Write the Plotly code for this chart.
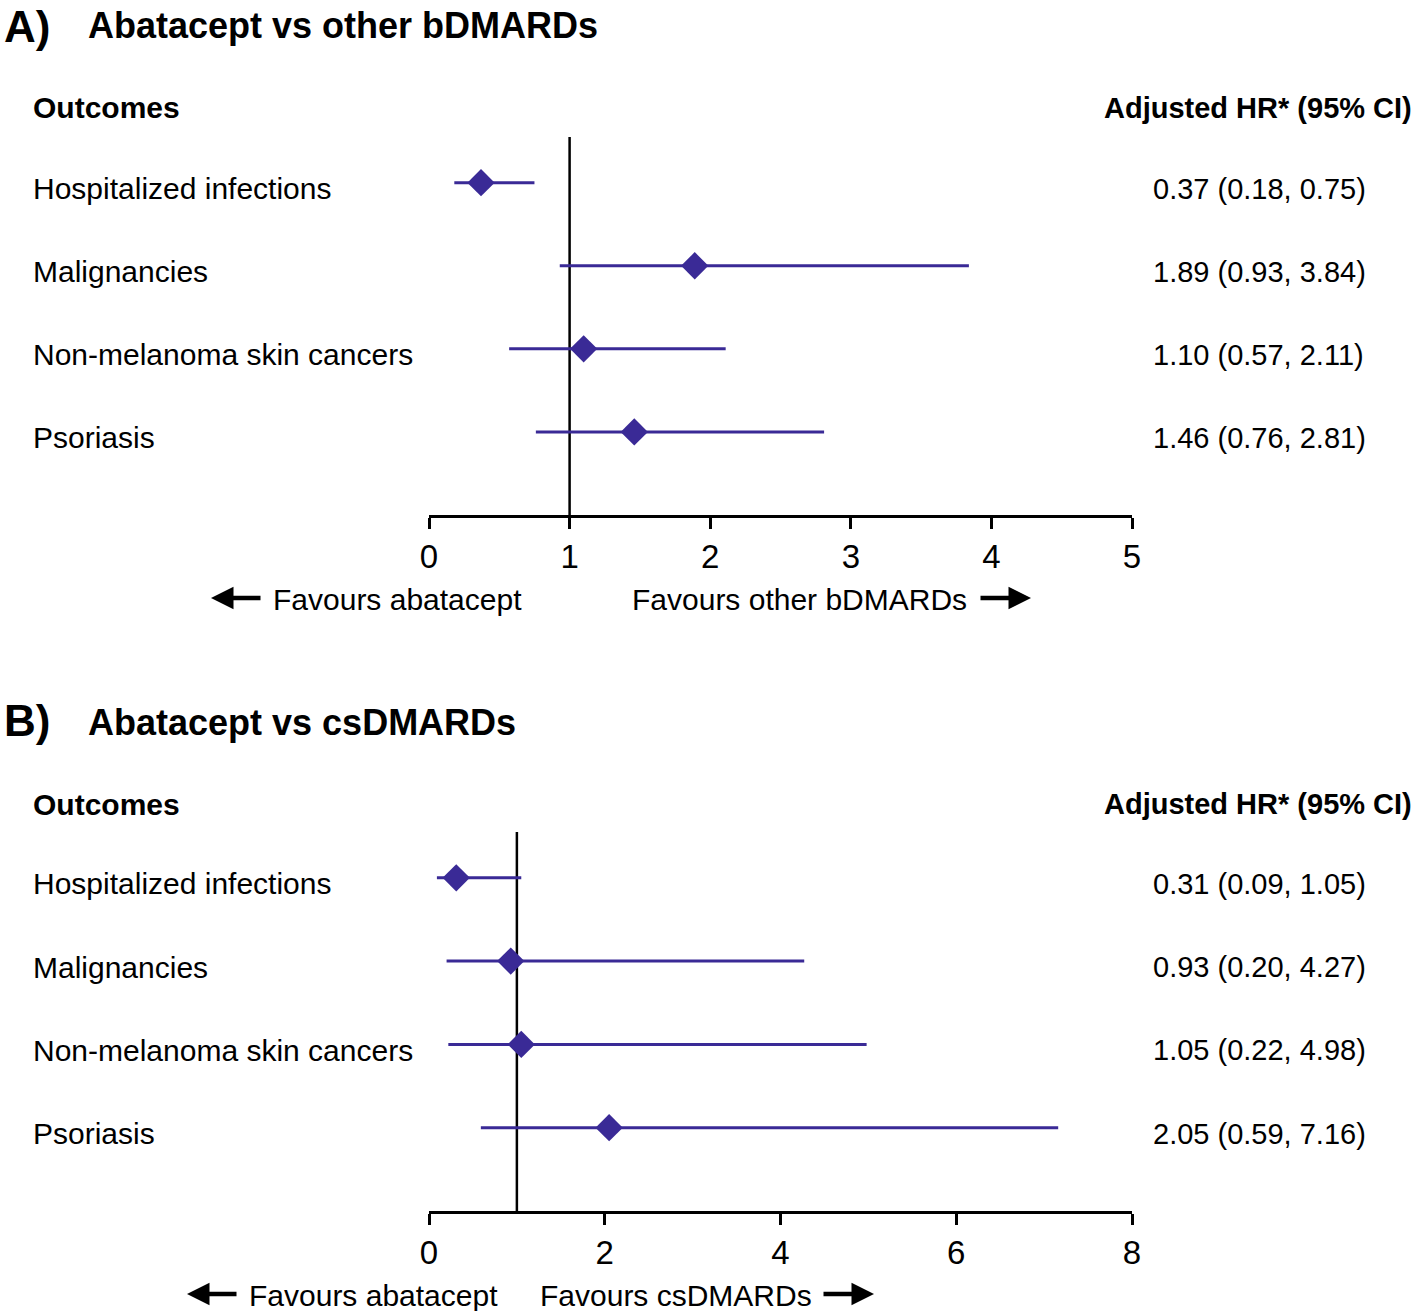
import plotly.graph_objects as go

W, H = 1417, 1311

outcomes = ["Hospitalized infections", "Malignancies", "Non-melanoma skin cancers", "Psoriasis"]
rows = [4, 3, 2, 1]

a_hr = [0.37, 1.89, 1.10, 1.46]
a_lo = [0.18, 0.93, 0.57, 0.76]
a_hi = [0.75, 3.84, 2.11, 2.81]
a_text = ["0.37 (0.18, 0.75)", "1.89 (0.93, 3.84)", "1.10 (0.57, 2.11)", "1.46 (0.76, 2.81)"]
a_ticks = [0, 1, 2, 3, 4, 5]

b_hr = [0.31, 0.93, 1.05, 2.05]
b_lo = [0.09, 0.20, 0.22, 0.59]
b_hi = [1.05, 4.27, 4.98, 7.16]
b_text = ["0.31 (0.09, 1.05)", "0.93 (0.20, 4.27)", "1.05 (0.22, 4.98)", "2.05 (0.59, 7.16)"]
b_ticks = [0, 2, 4, 6, 8]

COL = "#3A2A96"
FONT = "Liberation Sans, Arial, Helvetica, sans-serif"
FS = 30

def px(x):
    return x / W

def py(y):
    return 1 - y / H

fig = go.Figure()

for hr, lo, hi, xa, ya in [(a_hr, a_lo, a_hi, "x", "y"), (b_hr, b_lo, b_hi, "x2", "y2")]:
    fig.add_trace(go.Scatter(
        x=hr, y=rows, xaxis=xa, yaxis=ya, mode="markers",
        marker=dict(symbol="diamond", size=21, color=COL),
        error_x=dict(type="data", symmetric=False,
                     array=[h - m for h, m in zip(hi, hr)],
                     arrayminus=[m - l for m, l in zip(hr, lo)],
                     thickness=3, width=0, color=COL),
        showlegend=False, hoverinfo="skip", cliponaxis=False))

axis_common = dict(showgrid=False, zeroline=False, showline=True, linecolor="black", linewidth=2.5,
                   ticks="outside", ticklen=11, tickwidth=2.5, tickcolor="black", automargin=False,
                   tickfont=dict(family=FONT, size=33, color="black"), fixedrange=True)

fig.update_layout(
    template="none",
    width=W, height=H, margin=dict(l=0, r=0, t=0, b=0, pad=0), autosize=False,
    paper_bgcolor="white", plot_bgcolor="white",
    xaxis=dict(domain=[px(429), px(1132)], range=[0, 5], tickvals=a_ticks, anchor="y", **axis_common),
    yaxis=dict(domain=[py(515), py(137)], range=[0, 4.55], visible=False, anchor="x", automargin=False),
    xaxis2=dict(domain=[px(429), px(1132)], range=[0, 8], tickvals=b_ticks, anchor="y2", **axis_common),
    yaxis2=dict(domain=[py(1211), py(832)], range=[0, 4.55], visible=False, anchor="x2", automargin=False),
)

# reference lines at HR = 1
for xr, yr in [("x", "y"), ("x2", "y2")]:
    fig.add_shape(type="line", xref=xr, yref=yr + " domain", x0=1, x1=1, y0=0, y1=1,
                  line=dict(color="black", width=2.5), layer="below")

def txt(text, x, y, size=FS, bold=False, xanchor="left", yref="paper"):
    fig.add_annotation(text=("<b>%s</b>" % text) if bold else text, x=x, y=y, xref="paper", yref=yref,
                       xanchor=xanchor, yanchor="middle", showarrow=False,
                       font=dict(family=FONT, size=size, color="black"))

def arrow(tip, tail, y):
    fig.add_annotation(text="", x=px(tip), y=py(y), xref="paper", yref="paper",
                       ax=tail - tip, ay=0, showarrow=True, arrowhead=2, arrowsize=1.0,
                       arrowwidth=4.5, arrowcolor="black")

# Panel titles
txt("A)", px(2), py(26), size=44, bold=True)
txt("Abatacept vs other bDMARDs", px(86), py(25), size=36, bold=True)
txt("B)", px(2), py(720), size=44, bold=True)
txt("Abatacept vs csDMARDs", px(86), py(722), size=36, bold=True)

# headers
for yy in [108, 804]:
    txt("Outcomes", px(31), py(yy), bold=True)
    txt("Adjusted HR* (95% CI)", px(1414), py(yy), size=29, bold=True, xanchor="right")

# row labels and values
for yref, vals in [("y", a_text), ("y2", b_text)]:
    for r, name, v in zip(rows, outcomes, vals):
        fig.add_annotation(text=name, x=px(31), y=r, xref="paper", yref=yref, xanchor="left",
                           yanchor="middle", yshift=-6, showarrow=False,
                           font=dict(family=FONT, size=FS, color="black"))
        fig.add_annotation(text=v, x=px(1151), y=r, xref="paper", yref=yref, xanchor="left",
                           yanchor="middle", yshift=-6, showarrow=False,
                           font=dict(family=FONT, size=29, color="black"))

# favours labels
txt("Favours abatacept", px(271), py(599))
arrow(211, 262, 598)
txt("Favours other bDMARDs", px(969), py(599), xanchor="right")
arrow(1031, 979, 598)

txt("Favours abatacept", px(247), py(1295))
arrow(187, 238, 1294)
txt("Favours csDMARDs", px(814), py(1295), xanchor="right")
arrow(874, 822, 1294)

fig.write_html("out.html", config={"responsive": False, "displayModeBar": False},
               post_script="document.body.style.margin='0';document.body.style.padding='0';")
